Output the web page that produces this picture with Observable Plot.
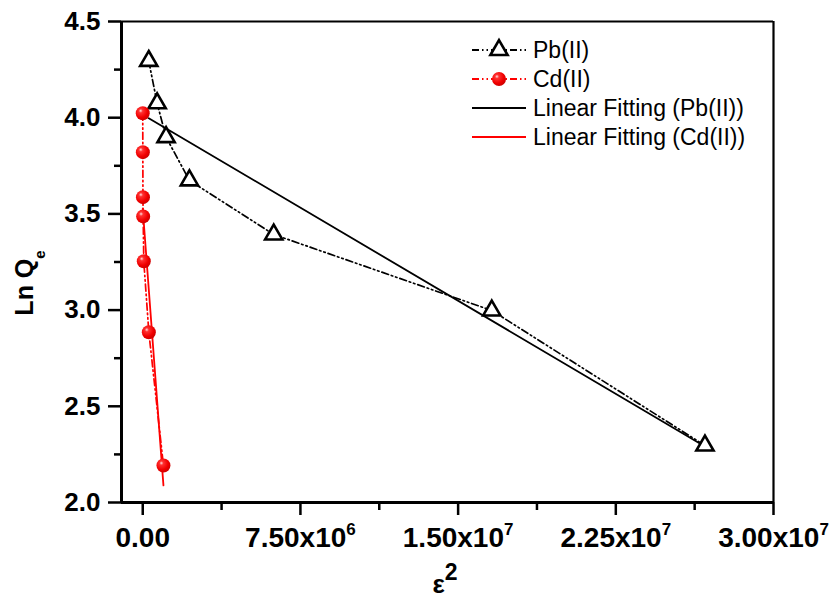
<!DOCTYPE html>
<html><head><meta charset="utf-8">
<script src="https://cdn.jsdelivr.net/npm/d3@7"></script>
<script src="https://cdn.jsdelivr.net/npm/@observablehq/plot@0.6"></script>
<style>
body{margin:0;background:#fff}
svg{font-family:Arial,"Liberation Sans",sans-serif}
</style>
</head><body><div id="chart"></div>
<script>
// ---- data ----
const pbX = [0.286e6, 0.685e6, 1.11e6, 2.22e6, 6.23e6, 16.6e6, 26.74e6];
const pbY = [4.295, 4.075, 3.899, 3.674, 3.393, 2.998, 2.296];
const cdX = [0.0, 0.005e6, 0.01e6, 0.02e6, 0.05e6, 0.29e6, 0.985e6];
const cdY = [4.023, 3.821, 3.587, 3.487, 3.254, 2.885, 2.192];
const pbFit = {intercept: 4.016, slope: -6.45e-8};
const cdFit = {intercept: 3.527, slope: -1.46e-6};
const xTicks = [0, 7.5e6, 1.5e7, 2.25e7, 3.0e7];
const xTickLabels = [["0.00", ""], ["7.50x10", "6"], ["1.50x10", "7"], ["2.25x10", "7"], ["3.00x10", "7"]];
const xMinor = [3.75e6, 1.125e7, 1.875e7, 2.625e7];
const yTicks = [2.0, 2.5, 3.0, 3.5, 4.0, 4.5];
const yMinor = [2.25, 2.75, 3.25, 3.75, 4.25];
const legendNames = ["Pb(II)", "Cd(II)", "Linear Fitting (Pb(II))", "Linear Fitting (Cd(II))"];
const xDomain = [-1.01e6, 3.0e7];
const yDomain = [2.0, 4.5];

const pb = pbX.map((x, i) => ({x, y: pbY[i]}));
const cd = cdX.map((x, i) => ({x, y: cdY[i]}));
const fitLine = (f, xs) => [d3.min(xs), d3.max(xs)].map(x => ({x, y: f.intercept + f.slope * x}));
const pbFitPts = fitLine(pbFit, pbX);
const cdFitPts = fitLine(cdFit, cdX);

const dashDotDot = "7,3,1.5,3,1.5,3";
const triR = 6.4;

const chart = Plot.plot({
  width: 832, height: 600,
  marginLeft: 121, marginTop: 21, marginRight: 59, marginBottom: 98,
  x: {domain: xDomain, axis: null},
  y: {domain: yDomain, axis: null},
  marks: [
    Plot.axisY({ticks: yTicks, tickSize: 13, tickPadding: 8, strokeWidth: 2.5, fontSize: 26, fontWeight: "bold", tickFormat: d3.format(".1f"), label: null}),
    Plot.axisY({ticks: yMinor, tickSize: 7, strokeWidth: 2.5, tickFormat: () => "", label: null}),
    Plot.axisX({ticks: xTicks, tickSize: 13, tickPadding: 12, strokeWidth: 2.5, fontSize: 28, fontWeight: "bold", tickFormat: (d, i) => xTickLabels[i][0], label: null}),
    Plot.axisX({ticks: xMinor, tickSize: 8, strokeWidth: 2.5, tickFormat: () => "", label: null}),
    Plot.ruleY([yDomain[1]], {strokeWidth: 2.2}),
    Plot.ruleX([xDomain[1]], {strokeWidth: 2.2}),
    Plot.ruleX([xDomain[0]], {strokeWidth: 3}),
    Plot.ruleY([yDomain[0]], {strokeWidth: 3}),
    Plot.line(pbFitPts, {x: "x", y: "y", stroke: "black", strokeWidth: 1.8}),
    Plot.line(cdFitPts, {x: "x", y: "y", stroke: "#ff0000", strokeWidth: 1.8}),
    Plot.line(pb, {x: "x", y: "y", stroke: "black", strokeWidth: 1.7, strokeDasharray: dashDotDot}),
    Plot.line(cd, {x: "x", y: "y", stroke: "#ff0000", strokeWidth: 1.7, strokeDasharray: dashDotDot}),
    Plot.dot(pb, {x: "x", y: "y", symbol: "triangle", r: triR, stroke: "black", strokeWidth: 2.6, fill: "white"}),
    Plot.dot(cd, {x: "x", y: "y", r: 7, fill: "url(#ball)", stroke: "none"})
  ]
});
document.getElementById("chart").appendChild(chart);

const svg = d3.select(chart);
// gradient for the shaded spheres
const defs = svg.insert("defs", ":first-child");
const g = defs.append("radialGradient").attr("id", "ball").attr("cx", "38%").attr("cy", "35%").attr("r", "65%").attr("fx", "35%").attr("fy", "32%");
g.append("stop").attr("offset", "0%").attr("stop-color", "#ffe0e0");
g.append("stop").attr("offset", "22%").attr("stop-color", "#ff3030");
g.append("stop").attr("offset", "70%").attr("stop-color", "#f00000");
g.append("stop").attr("offset", "100%").attr("stop-color", "#d00000");

// superscripts on x tick labels
svg.selectAll('g[aria-label="x-axis tick label"] text').each(function(d, i) {
  const lab = xTickLabels[i];
  if (!lab || !lab[1]) return;
  const t = d3.select(this);
  t.text(lab[0]);
  t.append("tspan").attr("dy", "-12").attr("font-size", 17).text(lab[1]);
});

// axis titles
const yt = svg.append("text").attr("transform", "translate(33,283) rotate(-90)")
  .attr("text-anchor", "middle").attr("font-size", 25).attr("font-weight", "bold").attr("fill", "black");
yt.append("tspan").text("Ln Q");
yt.append("tspan").attr("dy", 12).attr("font-size", 15).text("e");

const xt = svg.append("text").attr("x", 445).attr("y", 593)
  .attr("text-anchor", "middle").attr("font-size", 26).attr("font-weight", "bold").attr("fill", "black");
xt.append("tspan").text("ε");
xt.append("tspan").attr("dy", -13).attr("font-size", 23).text("2");

// legend
const lg = svg.append("g").attr("text-anchor", "start");
const rows = [50, 79, 108, 137];
const lx0 = 472, lx1 = 526, lxm = 499;
const styles = [
  {stroke: "black", dash: dashDotDot},
  {stroke: "#ff0000", dash: dashDotDot},
  {stroke: "black", dash: null},
  {stroke: "#ff0000", dash: null}
];
rows.forEach((y, i) => {
  const ln = lg.append("line").attr("x1", lx0).attr("x2", lx1).attr("y1", y).attr("y2", y)
    .attr("stroke", styles[i].stroke).attr("stroke-width", 1.8);
  if (styles[i].dash) ln.attr("stroke-dasharray", styles[i].dash);
  lg.append("text").attr("x", 533).attr("y", y).attr("dy", "0.36em").attr("text-anchor", "start")
    .attr("font-size", 23).attr("fill", "black").text(legendNames[i]);
});
lg.append("path").attr("transform", `translate(${lxm},${rows[0]})`)
  .attr("d", d3.symbol(d3.symbolTriangle, triR * triR * Math.PI)())
  .attr("fill", "white").attr("stroke", "black").attr("stroke-width", 2.6);
lg.append("circle").attr("cx", lxm).attr("cy", rows[1]).attr("r", 7).attr("fill", "url(#ball)");
</script>
</body></html>
